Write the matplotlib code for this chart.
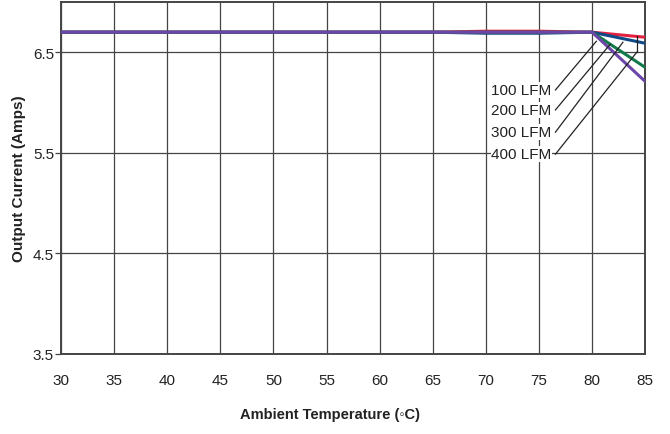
import matplotlib
matplotlib.use("Agg")
import matplotlib.pyplot as plt
from matplotlib import font_manager

names = {f.name for f in font_manager.fontManager.ttflist}
fam = "Liberation Sans Narrow" if "Liberation Sans Narrow" in names else "Liberation Sans"
plt.rcParams['font.family'] = [fam, 'DejaVu Sans']

# data
temps = [30, 35, 40, 45, 50, 55, 60, 65, 70, 75, 80, 85]
lfm100 = [6.7, 6.7, 6.7, 6.7, 6.7, 6.7, 6.7, 6.7, 6.7, 6.7, 6.7, 6.21]
lfm200 = [6.7, 6.7, 6.7, 6.7, 6.7, 6.7, 6.7, 6.7, 6.7, 6.7, 6.7, 6.35]
lfm300 = [6.7, 6.7, 6.7, 6.7, 6.7, 6.7, 6.7, 6.7, 6.69, 6.69, 6.7, 6.59]
lfm400 = [6.7, 6.7, 6.7, 6.7, 6.7, 6.7, 6.7, 6.7, 6.71, 6.71, 6.7, 6.65]
labels = ["100 LFM", "200 LFM", "300 LFM", "400 LFM"]
xticks = [30, 35, 40, 45, 50, 55, 60, 65, 70, 75, 80, 85]
yticks = [3.5, 4.5, 5.5, 6.5]

fig = plt.figure(figsize=(6.7, 4.35), dpi=100)
ax = fig.add_axes([0.091, 0.184, 0.872, 0.809])

ax.plot(temps, lfm400, color="#e3203f", lw=2.2, zorder=3)
ax.plot(temps, lfm300, color="#0f4a86", lw=2.2, zorder=3)
ax.plot(temps, lfm200, color="#13794a", lw=2.2, zorder=3)
ax.plot(temps, lfm100, color="#6c45a8", lw=2.2, zorder=4)

ax.set_xlim(30, 85)
ax.set_ylim(3.5, 7.0)
ax.set_xticks(xticks)
ax.set_yticks(yticks)
ax.set_xticklabels([str(t) for t in xticks])
ax.set_yticklabels([str(t) for t in yticks])
ax.grid(True, color="#444444", lw=0.9)
ax.set_axisbelow(True)
for s in ax.spines.values():
    s.set_color("#444444")
    s.set_linewidth(1.4)
ax.tick_params(axis="x", length=0, pad=14, labelsize=11, colors="#222222")
ax.tick_params(axis="y", length=4, width=0.9, color="#444444", pad=1, labelsize=11, labelcolor="#222222")

ax.set_xlabel("Ambient Temperature (◦C)", fontweight="bold", fontsize=10.5, labelpad=14,
              color="#222222", x=0.46)
ax.set_ylabel("Output Current (Amps)", fontweight="bold", fontsize=11, labelpad=5, color="#222222")

# labels and leader lines
label_y = [6.126, 5.927, 5.706, 5.487]
tips = [(80.4, 6.61), (81.7, 6.58), (82.9, 6.60), (84.2, 6.50)]
for lab, ly, (tx, ty) in zip(labels, label_y, tips):
    ax.text(76.2, ly, lab, ha="right", va="center", fontsize=11, color="#222222",
            bbox=dict(facecolor="white", edgecolor="none", pad=0.5), zorder=5)
    ax.plot([76.55, tx], [ly, ty], color="#222222", lw=0.9, zorder=5)
ax.plot([84.2, 84.2], [6.50, 6.66], color="#222222", lw=0.9, zorder=5)

fig.savefig("out.png", dpi=100)
